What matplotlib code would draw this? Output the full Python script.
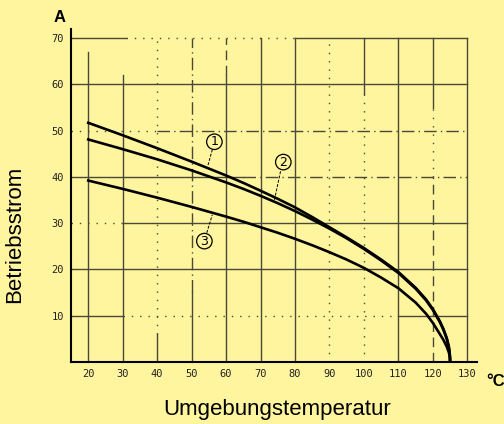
import matplotlib
matplotlib.use("Agg")
import matplotlib.pyplot as plt

# ---- data ----
temp = [20, 30, 40, 50, 60, 65, 70, 75, 80, 85, 90, 95, 100, 105, 110, 115, 118, 120, 122, 123, 124, 124.6, 124.8, 124.95, 125]
curve_1 = [51.7, 49.0, 46.2, 43.3, 40.3, 38.7, 37.0, 35.25, 33.4, 31.3, 29.1, 26.9, 24.6, 22.1, 19.4, 16.0, 13.5, 11.4, 8.8, 7.2, 5.2, 3.4, 2.4, 1.2, 0.0]
curve_2 = [48.1, 46.0, 43.8, 41.4, 38.8, 37.4, 35.9, 34.3, 32.6, 30.75, 28.8, 26.7, 24.4, 21.9, 19.2, 15.8, 13.3, 11.2, 8.6, 7.0, 5.0, 3.2, 2.2, 1.1, 0.0]
curve_3 = [39.2, 37.4, 35.5, 33.5, 31.4, 30.3, 29.1, 27.9, 26.6, 25.2, 23.7, 22.1, 20.3, 18.2, 15.9, 12.8, 10.4, 8.4, 6.0, 4.8, 3.3, 2.1, 1.5, 0.7, 0.0]

x_ticks = [20, 30, 40, 50, 60, 70, 80, 90, 100, 110, 120, 130]
y_ticks = [10, 20, 30, 40, 50, 60, 70]

curve_labels = ["1", "2", "3"]
label_pos = [(56.6, 47.6), (76.6, 43.2), (53.7, 26.1)]
leader_start = [(56.0, 45.9), (75.8, 41.2), (54.4, 27.9)]
leader_end = [(54.7, 42.4), (73.9, 34.6), (56.0, 31.8)]

# ---- styling ----
bg = "#FFF59E"
grid_c = "#4a4836"
SOLID = "-"
DOT = (0, (1, 5))
DASHDOT = (0, (9, 3, 1, 3))
DASH = (0, (7, 4))

# grid segments imitating the scanned drawing: (start, end, style)
v_segments = {
    20: [(0, 67, SOLID)],
    30: [(0, 62, SOLID)],
    40: [(0, 6, SOLID), (6, 70, DOT)],
    50: [(0, 15, SOLID), (15, 70, DASHDOT)],
    60: [(0, 62, SOLID), (62, 70, DASH)],
    70: [(0, 70, SOLID)],
    80: [(0, 70, SOLID)],
    90: [(0, 70, DOT)],
    100: [(0, 58, DOT), (58, 70, SOLID)],
    110: [(0, 70, SOLID)],
    120: [(0, 40, DASH), (40, 55, DOT), (55, 70, SOLID)],
    130: [(0, 70, SOLID)],
}
h_segments = {
    10: [(15, 30, SOLID), (30, 110, DOT), (110, 130, SOLID)],
    20: [(15, 130, SOLID)],
    30: [(15, 30, DOT), (30, 130, SOLID)],
    40: [(15, 65, SOLID), (65, 130, DASHDOT)],
    50: [(15, 40, DOT), (40, 130, DASHDOT)],
    60: [(15, 130, SOLID)],
    70: [(15, 31, SOLID), (31, 80, DOT), (80, 130, SOLID)],
}

fig = plt.figure(figsize=(5.04, 4.24), dpi=100, facecolor=bg)
ax = fig.add_axes([0.1409, 0.1469, 0.9464 - 0.1409, 0.9316 - 0.1469])
ax.set_facecolor(bg)
ax.set_xlim(15, 132.8)
ax.set_ylim(0, 72)

for xv, segs in v_segments.items():
    for y0, y1, ls in segs:
        ax.plot([xv, xv], [y0, y1], color=grid_c, lw=1.0, linestyle=ls, zorder=1)
for yv, segs in h_segments.items():
    for x0, x1, ls in segs:
        ax.plot([x0, x1], [yv, yv], color=grid_c, lw=1.0, linestyle=ls, zorder=1)

# curves
for c in (curve_1, curve_2, curve_3):
    ax.plot(temp, c, color="black", lw=1.9, solid_joinstyle="round", zorder=3)

# circled labels with leader lines
for lab, (lx, ly), (sx, sy), (ex, ey) in zip(curve_labels, label_pos, leader_start, leader_end):
    ax.plot([sx, ex], [sy, ey], color="black", lw=0.7, linestyle=(0, (3, 1.5)), zorder=3)
    ax.text(lx, ly, lab, ha="center", va="center", fontsize=9, family="DejaVu Sans",
            bbox=dict(boxstyle="circle,pad=0.1", fc=bg, ec="black", lw=0.9), zorder=4)

# spines
for s in ("top", "right"):
    ax.spines[s].set_visible(False)
ax.spines["left"].set_linewidth(1.5)
ax.spines["bottom"].set_linewidth(1.5)

ax.set_xticks(x_ticks)
ax.set_yticks(y_ticks)
ax.tick_params(length=0, labelsize=7.5, pad=5, colors="#222222")
for lbl in ax.get_xticklabels() + ax.get_yticklabels():
    lbl.set_family("DejaVu Sans Mono")

# axis texts
fig.text(60 / 504, 1 - 18 / 424, "A", ha="center", va="center", fontsize=12,
         fontweight="bold", family="Liberation Sans")
fig.text(496 / 504, 1 - 381 / 424, "°C", ha="center", va="center", fontsize=12,
         fontweight="bold", family="Liberation Sans")
fig.text(277 / 504, 1 - 410 / 424, "Umgebungstemperatur", ha="center", va="center",
         fontsize=16, family="Liberation Sans")
fig.text(15 / 504, 1 - 234 / 424, "Betriebsstrom", ha="center", va="center",
         fontsize=16, family="Liberation Sans", rotation=90)

fig.savefig("out.png", dpi=100, facecolor=bg)
